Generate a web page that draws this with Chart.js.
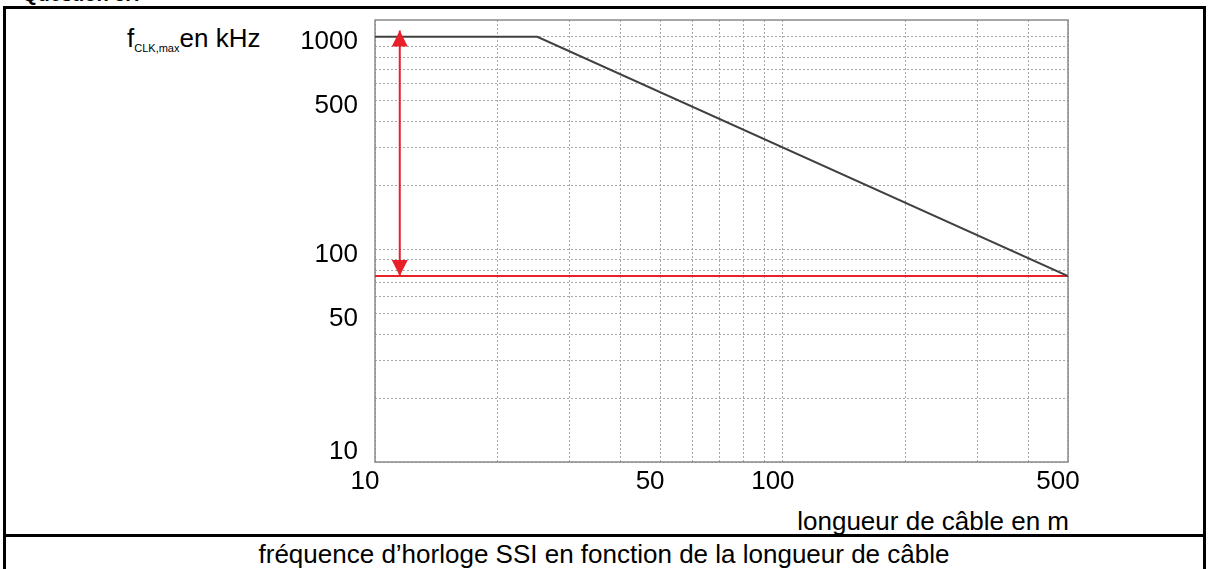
<!DOCTYPE html>
<html><head><meta charset="utf-8">
<script src="https://cdn.jsdelivr.net/npm/chart.js@4.4.1/dist/chart.umd.min.js"></script>
<style>
html,body{margin:0;padding:0;background:#fff;width:1208px;height:569px;overflow:hidden;position:relative;font-family:"Liberation Sans",Arial,sans-serif;}
#c{position:absolute;left:0;top:0;}
.t{position:absolute;white-space:nowrap;color:#000;}
</style></head><body>
<div class="t" style="left:22px;top:-16px;font-size:20px;line-height:20px;font-weight:bold;">Question 5.?</div>
<div style="position:absolute;left:3px;top:6px;width:1203px;height:620px;border:3px solid #000;box-sizing:border-box;"></div>
<div style="position:absolute;left:3px;top:534px;width:1203px;height:3px;background:#000;"></div>
<div class="t" style="left:127px;top:25px;font-size:26px;line-height:26px;">f<span style="font-size:11px;position:relative;top:5px;">CLK,max</span>en kHz</div>
<div class="t" style="right:139px;top:508px;font-size:26px;line-height:26px;">longueur de câble en m</div>
<div class="t" style="left:0;width:1208px;text-align:center;top:541px;font-size:26px;line-height:26px;">fréquence d’horloge SSI en fonction de la longueur de câble</div>
<canvas id="c" width="1208" height="569"></canvas>
<script>
// ---- data ----
const xGridValues = [10,20,30,40,50,60,70,80,90,100,200,300,400,500];
const xTickLabels = [10,50,100,500];
const yGridValues = [10,20,30,40,50,60,70,80,90,100,200,300,400,500,600,700,800,900,1000];
const yTickLabels = [10,50,100,500,1000];
const cableLength = [10,25,500];
const fclkMax = [1000,1000,75];
const limitX = [10,500];
const limitY = [75,75];
const arrowX = [11.5,11.5];
const arrowY = [75,1070];

Chart.defaults.font.family = '"Liberation Sans", Arial, sans-serif';

const pts = (xs, ys) => xs.map((x,i)=>({x, y: ys[i]}));

const framePlugin = {
  id: 'frame',
  beforeDatasetsDraw(chart){
    const {ctx, chartArea:a} = chart;
    ctx.save();
    ctx.strokeStyle = '#8a8a8a';
    ctx.lineWidth = 1.5;
    ctx.setLineDash([]);
    ctx.strokeRect(a.left, a.top, a.right-a.left, a.bottom-a.top);
    ctx.restore();
  },
  afterDatasetsDraw(chart){
    const {ctx} = chart;
    const meta = chart.getDatasetMeta(2);
    const p0 = meta.data[0], p1 = meta.data[1];
    const head = (tx, ty, dir) => {
      ctx.beginPath();
      ctx.moveTo(tx, ty);
      ctx.lineTo(tx-8, ty - dir*16);
      ctx.lineTo(tx+8, ty - dir*16);
      ctx.closePath();
      ctx.fill();
    };
    ctx.save();
    ctx.fillStyle = '#e8202a';
    head(p0.x, p0.y, 1);   // pointing down
    head(p1.x, p1.y, -1);  // pointing up
    ctx.restore();
  }
};

new Chart(document.getElementById('c'), {
  type: 'line',
  data: {
    datasets: [
      { data: pts(cableLength, fclkMax), borderColor: '#404040', borderWidth: 2, pointRadius: 0, tension: 0 },
      { data: pts(limitX, limitY), borderColor: '#e8202a', borderWidth: 2, pointRadius: 0 },
      { data: pts(arrowX, arrowY), borderColor: '#e8202a', borderWidth: 2, pointRadius: 0 }
    ]
  },
  options: {
    responsive: false,
    animation: false,
    events: [],
    layout: { padding: { left: 0, top: 20, right: 140, bottom: 0 } },
    plugins: { legend: { display: false }, tooltip: { enabled: false } },
    scales: {
      x: {
        type: 'logarithmic', min: 10, max: 500, position: 'bottom',
        afterBuildTicks: s => { s.ticks = xGridValues.map(v => ({ value: v })); },
        afterFit: s => { s.height = 107; s.paddingLeft = 0; s.paddingRight = 0; },
        grid: { color: '#a6a6a6', lineWidth: 1, drawTicks: false },
        border: { display: false, dash: [2, 2] },
        ticks: {
          autoSkip: false, maxRotation: 0, padding: 4, labelOffset: -10,
          color: '#000', font: { size: 26 },
          callback: v => xTickLabels.includes(v) ? String(v) : ''
        }
      },
      y: {
        type: 'logarithmic', min: 10, max: 1200, position: 'left',
        afterBuildTicks: s => { s.ticks = yGridValues.map(v => ({ value: v })); },
        afterFit: s => { s.width = 375; s.paddingTop = 0; s.paddingBottom = 0; },
        grid: { color: '#a6a6a6', lineWidth: 1, drawTicks: false },
        border: { display: false, dash: [2, 2] },
        ticks: {
          autoSkip: false, padding: 17, labelOffset: 5,
          color: '#000', font: { size: 26 },
          callback: v => yTickLabels.includes(v) ? (v === 10 ? ['10', ''] : String(v)) : ''
        }
      }
    }
  },
  plugins: [framePlugin]
});
</script>
</body></html>
